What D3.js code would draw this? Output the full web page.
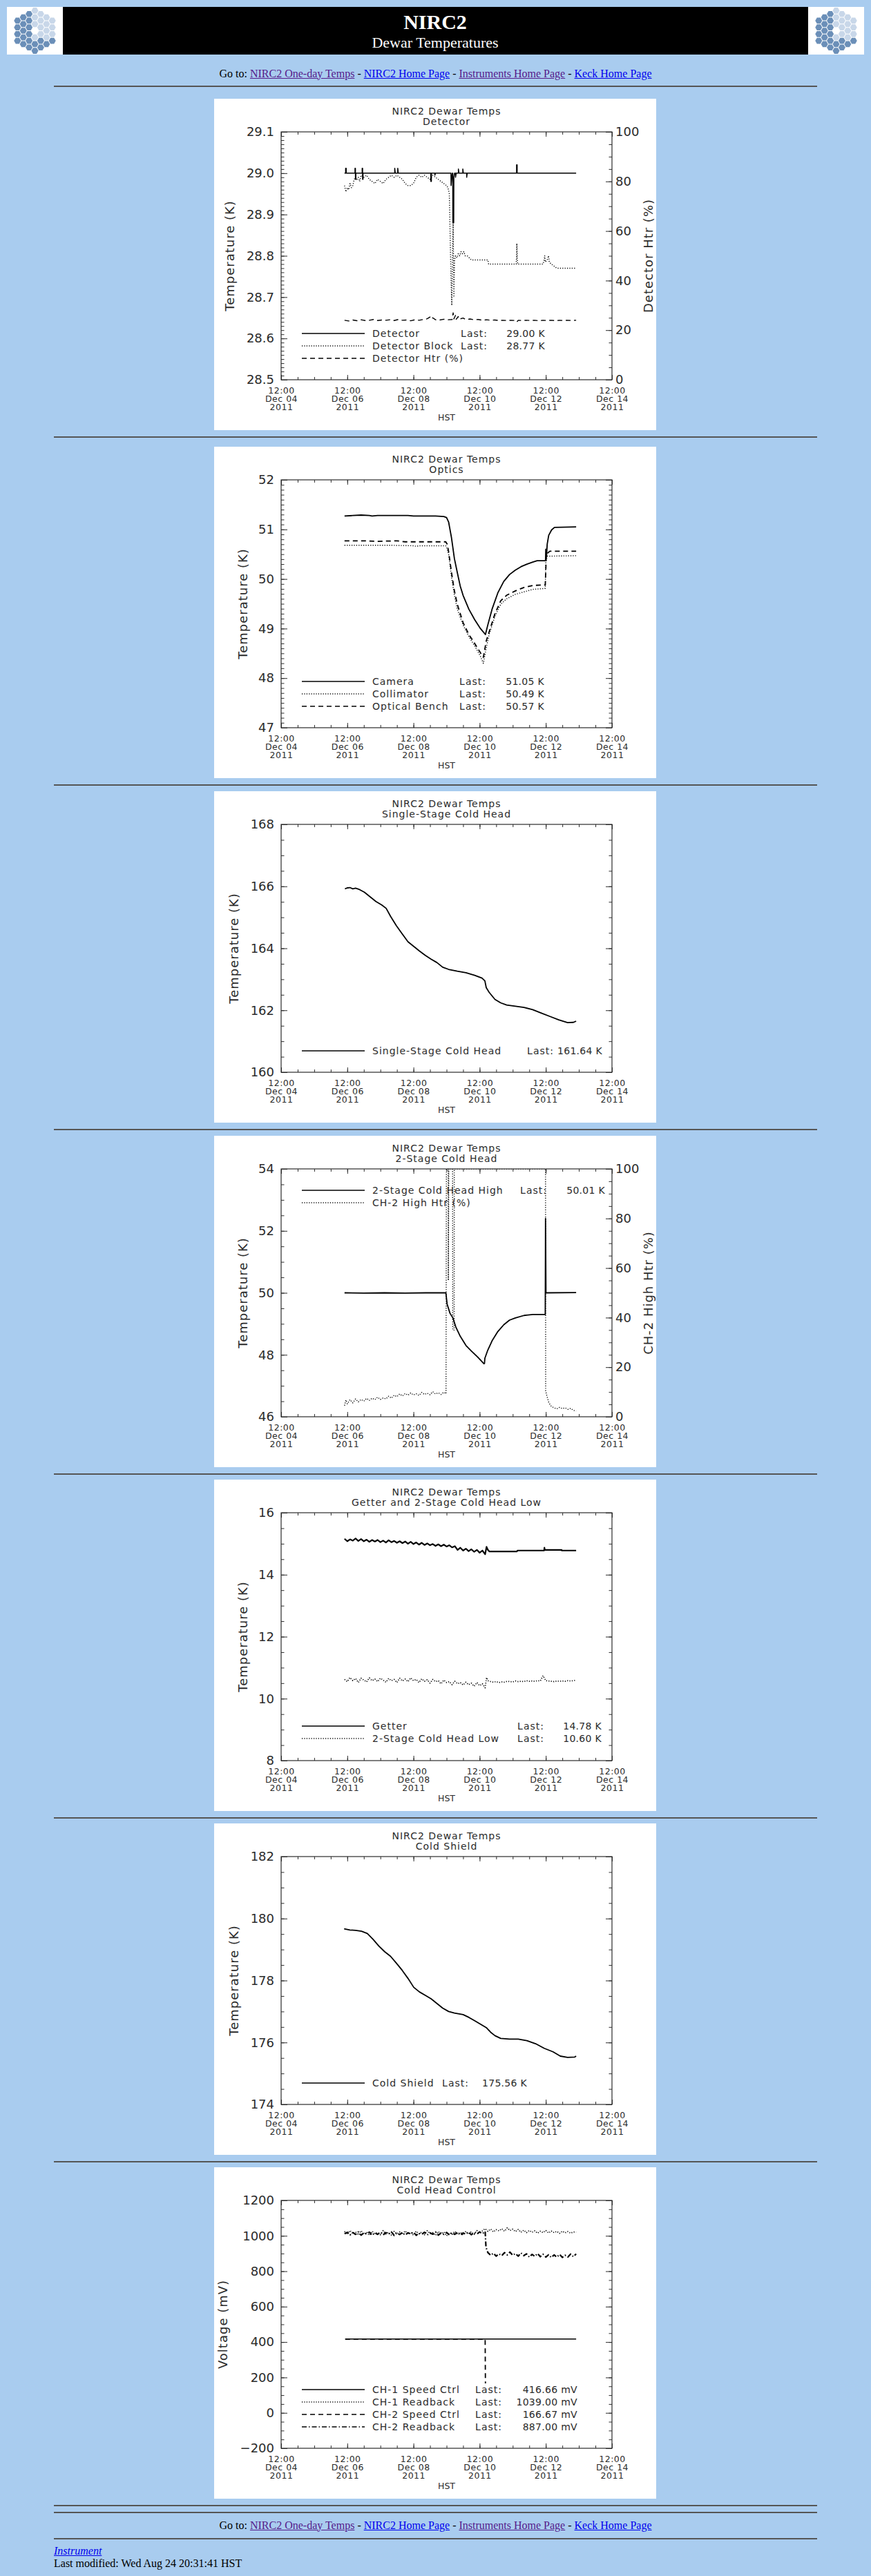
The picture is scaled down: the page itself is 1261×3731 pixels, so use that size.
<!DOCTYPE html>
<html lang="en">
<head>
<meta charset="UTF-8">
<title>NIRC2 Dewar Temperatures</title>
<script src="https://cdn.jsdelivr.net/npm/d3@7/dist/d3.min.js"></script>
<script>window.d3 || document.write('<script src="https://d3js.org/d3.v7.min.js"><\/script>');</script>
<script>window.d3 || document.write('<script src="https://unpkg.com/d3@7/dist/d3.min.js"><\/script>');</script>
<style>
    body {
        margin: 0;
        background-color: #a9ccef;
        width: 1261px;
        height: 3731px;
        position: relative;
        overflow: hidden;
        font-family: "Liberation Serif", "Times New Roman", serif;
        font-size: 16px;
        color: #000;
    }
    .rule { position: absolute; left: 78px; width: 1105px; height: 2px; background: #555; }
    .line { position: absolute; line-height: 18px; white-space: nowrap; }
    .goto { left: 0; width: 1261px; text-align: center; }
    a { text-decoration: underline; }
    a.seen { color: #551a8b; }
    a.link { color: #0000ee; }
    svg.plot { position: absolute; left: 310px; background: #fff; }
</style>
</head>
<body>
<script>
    // hours counted from 12:00 Dec 04 2011 HST
    const detectorTemp = [[46,29.00],[46.8,29.00],[46.8,29.012],[47.2,29.012],[47.2,29.00],[53.6,29.00],[53.6,29.012],[53.9,29.012],[53.9,28.985],[54.2,28.985],[54.2,29.00],[58.8,29.00],[58.8,29.012],[59.1,29.012],[59.1,28.985],[59.4,28.985],[59.4,29.00],[82.4,29.00],[82.4,29.012],[82.8,29.00],[84.6,29.00],[84.6,29.012],[85.0,29.00],[108.6,29.00],[108.6,28.98],[109.0,28.98],[109.0,29.00],[111.5,29.00],[111.5,28.995],[112,29.00],[123.2,29.00],[123.3,28.97],[123.8,28.99],[124.2,29.00],[124.5,29.00],[124.6,28.88],[125.2,28.88],[125.3,28.99],[125.8,29.00],[126.5,29.00],[126.5,28.99],[127,29.00],[128.6,29.00],[128.6,29.01],[129,29.00],[131.8,29.00],[131.8,29.01],[132.2,29.00],[134.6,29.00],[134.6,28.99],[135,29.00],[170.8,29.00],[170.8,29.02],[171.2,29.02],[171.2,29.00],[214,29.00]];
    const detectorBlock = [[46,28.97],[47,28.955],[48,28.965],[49,28.96],[50,28.975],[51,28.965],[52,28.97],[53,28.985],[54,28.99],[55,28.985],[56,28.99],[57,28.98],[58,28.995],[60,28.99],[62,28.995],[64,28.985],[66,28.98],[68,28.975],[70,28.985],[72,28.98],[74,28.975],[76,28.985],[78,28.99],[80,28.995],[82,28.99],[84,28.995],[86,28.99],[88,28.985],[90,28.975],[92,28.97],[94,28.97],[96,28.975],[98,28.99],[100,28.995],[102,28.99],[104,28.995],[106,28.99],[108,28.985],[110,28.995],[112,28.99],[114,28.985],[116,28.98],[118,28.975],[120,28.97],[121,28.965],[122,28.95],[122.6,28.85],[123.2,28.75],[123.8,28.68],[124.3,28.80],[124.8,28.88],[125.3,28.70],[125.8,28.79],[126.5,28.80],[127.5,28.795],[128.5,28.805],[129.5,28.80],[130.5,28.81],[131.5,28.805],[132.5,28.81],[133.5,28.80],[135,28.80],[138,28.79],[150,28.79],[150.5,28.78],[170.5,28.78],[170.8,28.80],[171,28.83],[171.3,28.79],[171.6,28.78],[190,28.78],[190.8,28.79],[191.2,28.80],[191.6,28.785],[193,28.79],[194,28.80],[194.5,28.785],[196,28.78],[198,28.775],[200,28.77],[214,28.77]];
    const detectorHtr = [[46,24.0],[49,23.7],[52,24.1],[55,23.8],[58,24.2],[61,23.9],[64,24.0],[67,24.3],[70,23.9],[73,24.1],[76,24.0],[79,24.2],[82,23.9],[85,24.3],[88,24.0],[91,24.1],[94,23.8],[97,24.2],[100,24.0],[103,24.3],[106,24.6],[108,25.3],[109,24.4],[110,25.0],[112,24.2],[115,24.1],[118,24.4],[121,24.2],[124,24.3],[124.8,27.0],[125.3,24.5],[126.5,26.0],[127,24.4],[128.5,25.5],[129,24.4],[132,24.9],[134,24.3],[137,24.5],[140,24.2],[143,24.3],[146,24.0],[149,24.2],[152,24.0],[155,24.1],[158,23.9],[161,24.0],[164,23.9],[167,24.0],[170,23.9],[171,23.3],[172,24.0],[175,23.9],[178,24.0],[181,23.9],[184,24.0],[187,23.8],[190,24.0],[193,23.9],[196,24.0],[199,23.8],[202,24.0],[205,23.9],[208,24.0],[211,23.9],[214,24.0]];
    const detectorLegend = [["Detector", "29.00 K"], ["Detector Block", "28.77 K"], ["Detector Htr (%)", null]];

    const cameraTemp = [[46,51.27],[52,51.28],[58,51.29],[64,51.28],[66,51.27],[70,51.28],[80,51.28],[92,51.28],[96,51.27],[104,51.27],[112,51.27],[118,51.26],[120,51.24],[121.5,51.15],[123.6,50.83],[125.7,50.41],[127.8,50.13],[129.9,49.86],[132,49.67],[136.2,49.39],[140.4,49.18],[144.6,49.0],[148.2,48.88],[149.9,49.07],[153,49.39],[157.2,49.72],[161.5,49.95],[165.7,50.09],[169.9,50.18],[174.1,50.25],[178.3,50.30],[182.5,50.34],[185.7,50.37],[191.8,50.37],[192,50.60],[192.5,50.45],[193,50.70],[194.1,50.88],[196.2,50.99],[198.3,51.04],[214,51.05]];
    const collimatorTemp = [[46,50.68],[60,50.68],[80,50.68],[96,50.67],[98,50.66],[100,50.67],[119.4,50.67],[120.5,50.60],[121.5,50.50],[123.6,50.04],[125.7,49.67],[127.8,49.39],[132,49.07],[136.2,48.84],[140.4,48.65],[144.6,48.44],[146.7,48.30],[148.8,48.61],[150.9,48.88],[155.1,49.25],[159.3,49.49],[163.5,49.60],[169.9,49.69],[176.2,49.74],[182.5,49.79],[191.6,49.81],[192,50.35],[193,50.46],[214,50.47]];
    const benchTemp = [[46,50.77],[60,50.77],[70,50.76],[84,50.77],[90,50.75],[100,50.75],[119.4,50.75],[120.5,50.70],[121.5,50.55],[123.6,50.13],[125.7,49.76],[127.8,49.49],[132,49.12],[136.2,48.88],[140.4,48.70],[144.6,48.51],[146.7,48.42],[148.8,48.75],[151.9,49.02],[155.1,49.30],[159.3,49.56],[163.5,49.67],[169.9,49.76],[176.2,49.83],[182.5,49.87],[191.6,49.88],[192.4,50.50],[194.9,50.56],[214,50.56]];
    const opticsLegend = [["Camera", "51.05 K"], ["Collimator", "50.49 K"], ["Optical Bench", "50.57 K"]];

    const singleStageTemp = [[46.3,165.92],[48,165.95],[49.9,165.96],[52,165.92],[54,165.94],[56.2,165.91],[60.4,165.81],[64.6,165.66],[68.8,165.51],[73,165.40],[76.2,165.29],[79.4,165.03],[83.6,164.73],[87.8,164.47],[92,164.21],[96.2,164.06],[100.4,163.91],[104.6,163.77],[108.8,163.65],[113,163.54],[117.2,163.39],[121.5,163.32],[127.8,163.26],[134.1,163.21],[140.4,163.13],[145.7,163.04],[147.8,162.95],[148.8,162.73],[150.9,162.58],[155.1,162.35],[159.3,162.24],[163.6,162.17],[169.9,162.13],[176.2,162.09],[182.5,162.02],[188.8,161.91],[195.1,161.80],[201.4,161.69],[207.8,161.60],[212,161.61],[214,161.65]];
    const singleStageLegend = [["Single-Stage Cold Head", "161.64 K"]];

    const twoStageHigh = [[46,50.0],[60,49.99],[75,50.0],[90,49.99],[105,50.0],[119.5,50.0],[120.4,49.64],[122.5,49.34],[124.6,49.19],[126.7,48.9],[129.9,48.6],[134.1,48.3],[138.3,48.11],[142.5,47.93],[145.7,47.78],[147.1,47.71],[147.5,47.72],[147.8,47.89],[149.9,48.15],[153,48.45],[157.2,48.75],[161.5,48.97],[165.7,49.12],[169.9,49.19],[176.2,49.27],[182.5,49.30],[191.6,49.30],[191.8,52.40],[192.1,50.00],[214,50.01]];
    const ch2HighHtr = [[46,4.5],[47,6.8],[48,5.2],[50,6.9],[52,5.6],[54,7.2],[56,6.0],[58,7.0],[60,6.3],[62,7.4],[64,6.6],[66,7.5],[68,6.9],[70,7.9],[72,7.0],[74,7.6],[76,7.2],[78,8.3],[80,7.5],[82,8.7],[84,8.1],[86,9.2],[88,8.4],[90,9.4],[92,8.7],[94,9.6],[96,8.8],[98,9.3],[100,8.6],[102,9.8],[104,9.0],[106,9.5],[108,8.9],[110,10.1],[112,9.2],[114,9.7],[116,9.0],[118,9.9],[119.6,9.3],[119.9,100],[121.2,100],[121.3,55],[121.6,100],[124.4,100],[124.5,35],[125.5,35],[125.6,100],[191.8,100],[191.9,10.5],[192.5,9.0],[193,8.0],[194,6.0],[195,5.0],[196,4.2],[198,3.6],[200,3.2],[202,3.8],[204,3.3],[206,3.6],[208,3.0],[210,3.4],[212,2.6],[214,2.3]];
    const twoStageLegend = [["2-Stage Cold Head High", "50.01 K"], ["CH-2 High Htr (%)", null]];

    // sample times of the noisy records
    const earlyHours = [46,48,50,52,54,56,58,60,62,64,66,68,70,72,74,76,78,80,82,84,86,88,90,92,94,96,98,100,102,104,106,108,110,112,114,116,118,120,122,124,126,128,130,132,134,136,138,140,142,144,146,148];
    const lateHours = [150,152,154,156,158,160,162,164,166,168,170,172,174,176,178,180,182,184,186,188,190,192,194,196,198,200,202,204,206,208,210,212,214];

    const getterEarly = [15.16,15.08,15.14,15.10,15.17,15.09,15.15,15.08,15.13,15.06,15.12,15.07,15.12,15.05,15.10,15.04,15.11,15.05,15.09,15.03,15.08,15.02,15.07,15.00,15.06,14.99,15.04,14.97,15.03,14.96,15.01,14.95,14.99,14.93,14.98,14.92,14.97,14.91,14.95,14.88,14.92,14.80,14.87,14.78,14.84,14.76,14.82,14.74,14.80,14.71,14.78,14.66];
    const getterLate = [[149,14.90],[150,14.80],[151,14.75],[171,14.75],[171.5,14.78],[190.8,14.78],[191,14.87],[191.3,14.80],[203.5,14.80],[203.6,14.78],[214,14.78]];
    const lowEarly = [10.62,10.55,10.68,10.58,10.65,10.52,10.66,10.60,10.54,10.67,10.58,10.63,10.55,10.66,10.60,10.53,10.65,10.58,10.62,10.52,10.66,10.57,10.63,10.55,10.67,10.58,10.62,10.52,10.64,10.56,10.61,10.50,10.62,10.55,10.58,10.48,10.60,10.52,10.55,10.45,10.56,10.48,10.52,10.44,10.53,10.45,10.50,10.40,10.52,10.42,10.48,10.35];
    const lowLate = [10.58,10.55,10.53,10.55,10.52,10.54,10.53,10.56,10.55,10.54,10.57,10.55,10.56,10.55,10.58,10.56,10.57,10.56,10.58,10.57,10.74,10.58,10.57,10.56,10.55,10.57,10.56,10.57,10.56,10.58,10.57,10.58,10.60];
    const getterLegend = [["Getter", "14.78 K"], ["2-Stage Cold Head Low", "10.60 K"]];

    const coldShieldTemp = [[45.7,179.67],[49.9,179.63],[54,179.62],[58.3,179.59],[62.5,179.52],[66.7,179.33],[70.9,179.11],[75.1,178.93],[79.4,178.78],[83.6,178.56],[87.8,178.33],[92,178.07],[96.2,177.78],[100.4,177.63],[104.6,177.52],[108.8,177.41],[113,177.26],[117.2,177.11],[121.5,177.00],[125.7,176.95],[132,176.90],[136.2,176.81],[140.4,176.70],[144.6,176.59],[148.8,176.48],[152,176.33],[155.1,176.22],[159.3,176.13],[165.7,176.11],[172,176.11],[178.3,176.06],[184.6,175.96],[190.9,175.81],[197.2,175.70],[202.5,175.56],[207.8,175.52],[213,175.53],[214,175.56]];
    const coldShieldLegend = [["Cold Shield", "175.56 K"]];

    const ch1Speed = [[46.5,416.66],[214,416.66]];
    const ch2Speed = [[46.5,416.66],[148,416.66],[148.2,166.67]];
    const ch1ReadEarly = [1025,1008,1030,1012,1022,1005,1028,1010,1020,1003,1026,1012,1018,1006,1030,1010,1020,1004,1025,1012,1022,1008,1028,1010,1019,1004,1026,1011,1021,1006,1029,1012,1018,1003,1024,1010,1022,1000,1017,1008,1025,1010,1020,1005,1026,1012,1023,1008,1030,1015,1028,1040];
    const ch1ReadLate = [1025,1038,1022,1035,1028,1040,1026,1045,1030,1038,1024,1036,1020,1032,1018,1030,1020,1028,1015,1026,1018,1030,1016,1027,1018,1025,1014,1026,1017,1024,1015,1022,1020];
    const ch2ReadEarly = [1012,1020,1005,1018,1008,1022,1004,1016,1010,1021,1003,1017,1008,1020,1005,1018,1009,1022,1002,1016,1007,1019,1004,1017,1010,1021,1003,1015,1008,1020,1005,1017,1009,1022,1004,1016,1008,1019,1005,1018,1008,1020,1004,1016,1009,1021,1006,1018,1010,1022,1012,1025];
    const ch2ReadLate = [905,890,902,885,898,888,905,892,908,890,900,885,903,888,898,880,895,884,900,882,896,880,893,878,892,880,895,878,890,880,897,882,898];
    const controlLegend = [["CH-1 Speed Ctrl", "416.66 mV"], ["CH-1 Readback", "1039.00 mV"], ["CH-2 Speed Ctrl", "166.67 mV"], ["CH-2 Readback", "887.00 mV"]];

    const xMajorHours = [0, 48, 96, 144, 192, 240];

    const pairs = (hours, values) => d3.zip(hours, values);

    const FONT = "'DejaVu Sans', 'Liberation Sans', sans-serif";
    const INK = "#2b2b2b";
    const W = 640, H = 480;
    const M = {left: 97, right: 576, top: 48, bottom: 407};

    const t0 = Date.UTC(2011, 11, 4, 12);
    const toDate = h => new Date(t0 + h * 3600e3);
    const x = d3.scaleUtc().domain([toDate(0), toDate(240)]).range([M.left, M.right]);

    const lineStyles = {
        solid: {dash: null, width: 1.5},
        dotted: {dash: "1.2,2.2", width: 1.4},
        dashed: {dash: "7,5", width: 1.4},
        dashdot: {dash: "7,3,1.5,3", width: 1.3}
    };

    const charts = [
        {
            top: 143, sub: "Detector", y: [28.5, 29.1], major: 0.1, minor: 0.01, fmt: ".1f",
            ytitle: "Temperature (K)", ytitleX: 29,
            y2: [0, 100], y2major: 20, y2minor: 5, y2title: "Detector Htr (%)",
            series: [
                {data: detectorBlock, style: "dotted"},
                {data: detectorHtr, style: "dashed", right: true},
                {data: detectorTemp, style: "solid"}
            ],
            legend: {y: 345, lastEnd: 396, valEnd: 479, rows: detectorLegend, styles: ["solid", "dotted", "dashed"]}
        },
        {
            top: 647, sub: "Optics", y: [47, 52], major: 1, minor: 0.1, fmt: "d",
            ytitle: "Temperature (K)", ytitleX: 48,
            series: [
                {data: collimatorTemp, style: "dotted"},
                {data: benchTemp, style: "dashed", width: 1.8},
                {data: cameraTemp, style: "solid", width: 1.8}
            ],
            legend: {y: 345, lastEnd: 394, valEnd: 478, rows: opticsLegend, styles: ["solid", "dotted", "dashed"]}
        },
        {
            top: 1146, sub: "Single-Stage Cold Head", y: [160, 168], major: 2, minor: 0.5, fmt: "d",
            ytitle: "Temperature (K)", ytitleX: 35,
            series: [{data: singleStageTemp, style: "solid", width: 1.8}],
            legend: {y: 381, lastEnd: 492, valEnd: 562, rows: singleStageLegend, styles: ["solid"]}
        },
        {
            top: 1645, sub: "2-Stage Cold Head", y: [46, 54], major: 2, minor: 0.5, fmt: "d",
            ytitle: "Temperature (K)", ytitleX: 48,
            y2: [0, 100], y2major: 20, y2minor: 5, y2title: "CH-2 High Htr (%)",
            series: [
                {data: ch2HighHtr, style: "dotted", right: true},
                {data: twoStageHigh, style: "solid", width: 1.8}
            ],
            legend: {y: 84, lastEnd: 482, valEnd: 566, rows: twoStageLegend, styles: ["solid", "dotted"]}
        },
        {
            top: 2143, sub: "Getter and 2-Stage Cold Head Low", y: [8, 16], major: 2, minor: 0.5, fmt: "d",
            ytitle: "Temperature (K)", ytitleX: 48,
            series: [
                {data: pairs(earlyHours, getterEarly).concat(getterLate), style: "solid", width: 2.2},
                {data: pairs(earlyHours, lowEarly).concat([[149, 10.68]], pairs(lateHours, lowLate)), style: "dotted", width: 1.7}
            ],
            legend: {y: 362, lastEnd: 478, valEnd: 561, rows: getterLegend, styles: ["solid", "dotted"]}
        },
        {
            top: 2641, sub: "Cold Shield", y: [174, 182], major: 2, minor: 0.5, fmt: "d",
            ytitle: "Temperature (K)", ytitleX: 35,
            series: [{data: coldShieldTemp, style: "solid", width: 1.8}],
            legend: {y: 381, lastEnd: 369, valEnd: 453, rows: coldShieldLegend, styles: ["solid"]}
        },
        {
            top: 3139, sub: "Cold Head Control", y: [-200, 1200], major: 200, minor: 50, fmt: "d",
            ytitle: "Voltage (mV)", ytitleX: 19,
            series: [
                {data: pairs(earlyHours, ch1ReadEarly).concat(pairs(lateHours, ch1ReadLate)), style: "dotted", width: 1.7},
                {data: pairs(earlyHours, ch2ReadEarly).concat([[148.6, 935]], pairs(lateHours, ch2ReadLate)), style: "dashdot", width: 2.2},
                {data: ch2Speed, style: "dashed", width: 1.8},
                {data: ch1Speed, style: "solid"}
            ],
            legend: {y: 327, lastEnd: 417, valEnd: 526, rows: controlLegend, styles: ["solid", "dotted", "dashed", "dashdot"]}
        }
    ];

    const rules = [124, 632, 1136, 1635, 2134, 2632, 3130, 3628, 3638, 3676];

    renderHeader();
    rules.forEach(y => d3.select("body").append("div").attr("class", "rule").style("top", y + "px"));
    charts.forEach((cfg, i) => drawChart(cfg, i));
    renderFooter();

    function steps(lo, hi, step) {
        const n = Math.round((hi - lo) / step);
        return d3.range(n + 1).map(i => +(lo + i * step).toFixed(6));
    }

    function applyStyle(sel, name) {
        const s = lineStyles[name];
        sel.attr("fill", "none")
            .attr("stroke", "#000")
            .attr("stroke-width", s.width)
            .attr("stroke-dasharray", s.dash);
    }

    function styleAxis(g, size) {
        g.style("color", INK)
            .attr("font-family", FONT)
            .attr("font-size", size);
        g.select(".domain").remove();
        g.selectAll(".tick line").attr("stroke-width", 1);
        g.selectAll(".tick text").attr("fill", INK);
    }

    function drawChart(cfg, idx) {
        const svg = d3.select("body").append("svg")
            .attr("class", "plot")
            .attr("width", W)
            .attr("height", H)
            .style("top", cfg.top + "px");

        const y = d3.scaleLinear().domain(cfg.y).range([M.bottom, M.top]);
        const y2 = cfg.y2 ? d3.scaleLinear().domain(cfg.y2).range([M.bottom, M.top]) : null;

        // titles
        const title = svg.append("g")
            .attr("font-family", FONT)
            .attr("font-size", 14)
            .attr("letter-spacing", 1)
            .attr("text-anchor", "middle")
            .attr("fill", INK);
        title.append("text").attr("x", (M.left + M.right) / 2).attr("y", 23).text("NIRC2 Dewar Temps");
        title.append("text").attr("x", (M.left + M.right) / 2).attr("y", 38).text(cfg.sub);

        // x axes: ticks inward on bottom and top
        const xMajor = xMajorHours.map(toDate);
        const xMinor = d3.range(0, 241, 12).map(toDate);
        const bottom = svg.append("g").attr("transform", `translate(0,${M.bottom})`)
            .call(d3.axisBottom(x).tickValues(xMajor).tickSize(-7).tickSizeOuter(0).tickFormat(""));
        styleAxis(bottom, 12.5);
        svg.append("g").attr("transform", `translate(0,${M.bottom})`)
            .call(d3.axisBottom(x).tickValues(xMinor).tickSize(-4).tickSizeOuter(0).tickFormat(""))
            .call(g => styleAxis(g, 10));
        svg.append("g").attr("transform", `translate(0,${M.top})`)
            .call(d3.axisTop(x).tickValues(xMajor).tickSize(-7).tickSizeOuter(0).tickFormat(""))
            .call(g => styleAxis(g, 10));
        svg.append("g").attr("transform", `translate(0,${M.top})`)
            .call(d3.axisTop(x).tickValues(xMinor).tickSize(-4).tickSizeOuter(0).tickFormat(""))
            .call(g => styleAxis(g, 10));

        bottom.selectAll(".tick text").remove();
        const lab = bottom.selectAll(".tick").append("text")
            .attr("fill", INK)
            .attr("letter-spacing", 0.5);
        lab.append("tspan").attr("x", 0).attr("y", 20).text(d => d3.utcFormat("%H:%M")(d));
        lab.append("tspan").attr("x", 0).attr("y", 32).text(d => d3.utcFormat("%b %d")(d));
        lab.append("tspan").attr("x", 0).attr("y", 44).text(d => d3.utcFormat("%Y")(d));

        svg.append("text")
            .attr("x", (M.left + M.right) / 2)
            .attr("y", 466)
            .attr("text-anchor", "middle")
            .attr("font-family", FONT)
            .attr("font-size", 12.5)
            .attr("fill", INK)
            .text("HST");

        // y axes
        const fmt = d3.format(cfg.fmt);
        svg.append("g").attr("transform", `translate(${M.left},0)`)
            .call(d3.axisLeft(y).tickValues(steps(cfg.y[0], cfg.y[1], cfg.major)).tickSize(-9).tickPadding(10).tickSizeOuter(0).tickFormat(fmt))
            .call(g => styleAxis(g, 18));
        svg.append("g").attr("transform", `translate(${M.left},0)`)
            .call(d3.axisLeft(y).tickValues(steps(cfg.y[0], cfg.y[1], cfg.minor)).tickSize(-4.5).tickSizeOuter(0).tickFormat(""))
            .call(g => styleAxis(g, 10));

        const ry = y2 || y;
        const rDom = cfg.y2 || cfg.y;
        svg.append("g").attr("transform", `translate(${M.right},0)`)
            .call(d3.axisRight(ry).tickValues(steps(rDom[0], rDom[1], y2 ? cfg.y2major : cfg.major)).tickSize(-9).tickPadding(5).tickSizeOuter(0)
                .tickFormat(y2 ? d3.format("d") : ""))
            .call(g => styleAxis(g, 18));
        svg.append("g").attr("transform", `translate(${M.right},0)`)
            .call(d3.axisRight(ry).tickValues(steps(rDom[0], rDom[1], y2 ? cfg.y2minor : cfg.minor)).tickSize(-4.5).tickSizeOuter(0).tickFormat(""))
            .call(g => styleAxis(g, 10));

        // axis titles
        const midY = (M.top + M.bottom) / 2;
        svg.append("text")
            .attr("transform", `translate(${cfg.ytitleX},${midY}) rotate(-90)`)
            .attr("text-anchor", "middle")
            .attr("font-family", FONT)
            .attr("font-size", 18)
            .attr("letter-spacing", 1)
            .attr("fill", INK)
            .text(cfg.ytitle);
        if (cfg.y2title) {
            svg.append("text")
                .attr("transform", `translate(635,${midY}) rotate(-90)`)
                .attr("text-anchor", "middle")
                .attr("font-family", FONT)
                .attr("font-size", 18)
                .attr("letter-spacing", 1)
                .attr("fill", INK)
                .text(cfg.y2title);
        }

        // data, clipped to the plot box like IDL does
        const clipId = `clip-${idx}`;
        svg.append("clipPath").attr("id", clipId)
            .append("rect")
            .attr("x", M.left).attr("y", M.top)
            .attr("width", M.right - M.left).attr("height", M.bottom - M.top);

        const plot = svg.append("g").attr("clip-path", `url(#${clipId})`);
        cfg.series.forEach(s => {
            const sy = s.right ? y2 : y;
            const line = d3.line()
                .x(d => x(toDate(d[0])))
                .y(d => sy(d[1]));
            const path = plot.append("path")
                .attr("d", line(s.data))
                .attr("stroke-linejoin", "round")
                .call(applyStyle, s.style);
            if (s.width) path.attr("stroke-width", s.width);
        });

        // frame
        svg.append("rect")
            .attr("x", M.left).attr("y", M.top)
            .attr("width", M.right - M.left).attr("height", M.bottom - M.top)
            .attr("fill", "none")
            .attr("stroke", INK)
            .attr("stroke-width", 1.2);

        // legend
        const lg = cfg.legend;
        const leg = svg.append("g")
            .attr("font-family", FONT)
            .attr("font-size", 14)
            .attr("letter-spacing", 1)
            .attr("fill", INK);
        lg.rows.forEach((row, i) => {
            const yb = lg.y + i * 18;
            leg.append("line")
                .attr("x1", 127).attr("x2", 218)
                .attr("y1", yb - 5).attr("y2", yb - 5)
                .call(applyStyle, lg.styles[i])
                .attr("stroke-width", 1.3);
            leg.append("text").attr("x", 229).attr("y", yb).text(row[0]);
            if (row[1]) {
                leg.append("text").attr("x", lg.lastEnd).attr("y", yb).attr("text-anchor", "end").text("Last:");
                leg.append("text").attr("x", lg.valEnd).attr("y", yb).attr("text-anchor", "end")
                    .attr("letter-spacing", 0.3).text(row[1]);
            }
        });
    }

    function drawLogo(g, ox, oy) {
        const s = 5.6;
        const cells = [];
        for (let q = -3; q <= 3; q++) {
            for (let r = -3; r <= 3; r++) {
                const ring = Math.max(Math.abs(q), Math.abs(r), Math.abs(q + r));
                if (ring >= 1 && ring <= 3) cells.push([q, r]);
            }
        }
        const hex = d3.range(6).map(k => {
            const a = Math.PI / 3 * k;
            return [Math.cos(a) * s * 0.9, Math.sin(a) * s * 0.9];
        });
        g.append("rect").attr("x", ox).attr("y", oy).attr("width", 81).attr("height", 69).attr("fill", "#fff");
        g.selectAll(null)
            .data(cells)
            .join("path")
            .attr("transform", d => {
                const px = ox + 40.5 + s * 1.5 * d[0];
                const py = oy + 34.5 + s * Math.sqrt(3) * (d[1] + d[0] / 2);
                return `translate(${px},${py})`;
            })
            .attr("d", "M" + hex.join("L") + "Z")
            .attr("fill", d => (d[0] < 0 || d[1] + d[0] / 2 > 1) ? "#6b8fb8" : "#c8d7e9");
    }

    function renderHeader() {
        const svg = d3.select("body").append("svg")
            .attr("width", 1241)
            .attr("height", 69)
            .style("position", "absolute")
            .style("left", "10px")
            .style("top", "10px");
        svg.append("rect").attr("x", 81).attr("y", 0).attr("width", 1079).attr("height", 69).attr("fill", "#000");
        drawLogo(svg, 0, 0);
        drawLogo(svg, 1160, 0);
        svg.append("text")
            .attr("x", 620).attr("y", 32)
            .attr("text-anchor", "middle")
            .attr("font-family", "'Liberation Serif', 'Times New Roman', serif")
            .attr("font-weight", "bold")
            .attr("font-size", 30)
            .attr("fill", "#fff")
            .text("NIRC2");
        svg.append("text")
            .attr("x", 620).attr("y", 59)
            .attr("text-anchor", "middle")
            .attr("font-family", "'Liberation Serif', 'Times New Roman', serif")
            .attr("font-size", 22)
            .attr("fill", "#fff")
            .text("Dewar Temperatures");

        gotoLine(97.6);
    }

    function gotoLine(top) {
        const links = [["NIRC2 One-day Temps", "seen"], ["NIRC2 Home Page", "link"], ["Instruments Home Page", "seen"], ["Keck Home Page", "link"]];
        const div = d3.select("body").append("div")
            .attr("class", "line goto")
            .style("top", top + "px");
        div.append("span").text("Go to: ");
        links.forEach((l, i) => {
            if (i > 0) div.append("span").text(" - ");
            div.append("a").attr("class", l[1]).attr("href", "#").text(l[0]);
        });
    }

    function renderFooter() {
        gotoLine(3648.6);
        d3.select("body").append("div")
            .attr("class", "line")
            .style("left", "78px")
            .style("top", "3685.6px")
            .append("a").attr("class", "link").attr("href", "#")
            .style("font-style", "italic")
            .text("Instrument");
        d3.select("body").append("div")
            .attr("class", "line")
            .style("left", "78px")
            .style("top", "3703.6px")
            .text("Last modified: Wed Aug 24 20:31:41 HST");
    }
</script>
</body>
</html>
